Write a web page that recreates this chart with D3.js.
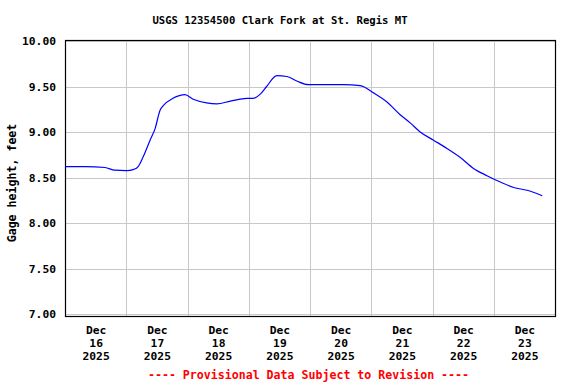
<!DOCTYPE html>
<html>
<head>
<meta charset="utf-8">
<script src="https://cdn.jsdelivr.net/npm/d3@7"></script>
<style>
  body { margin: 0; background: #fff; }
  svg text { font-family: "DejaVu Sans Mono", "Liberation Mono", monospace; font-weight: bold; }
  .grid line { stroke: #c8c8c8; stroke-width: 1; }
</style>
</head>
<body>
<div id="chart"></div>
<script>
// gage height readings (UTC times, feet)
var times = [
  "2025-12-16T00:00", "2025-12-16T08:00", "2025-12-16T15:40", "2025-12-16T19:30",
  "2025-12-17T00:00", "2025-12-17T03:00", "2025-12-17T04:40", "2025-12-17T06:40",
  "2025-12-17T09:20", "2025-12-17T11:20", "2025-12-17T13:15", "2025-12-17T14:30",
  "2025-12-17T18:20", "2025-12-17T23:00", "2025-12-18T02:15", "2025-12-18T07:30",
  "2025-12-18T11:30", "2025-12-18T16:50", "2025-12-18T23:15", "2025-12-19T01:40",
  "2025-12-19T05:00", "2025-12-19T07:00", "2025-12-19T11:00", "2025-12-19T14:55",
  "2025-12-19T18:50", "2025-12-19T23:25", "2025-12-20T06:35", "2025-12-20T13:10",
  "2025-12-20T19:40", "2025-12-21T00:55", "2025-12-21T06:10", "2025-12-21T11:20",
  "2025-12-21T15:15", "2025-12-21T19:10", "2025-12-22T00:25", "2025-12-22T05:40",
  "2025-12-22T10:55", "2025-12-22T16:05", "2025-12-22T21:20", "2025-12-23T02:35",
  "2025-12-23T07:50", "2025-12-23T13:00", "2025-12-23T19:00"
];
var heights = [
  8.62, 8.62, 8.61, 8.58,
  8.575, 8.59, 8.62, 8.73,
  8.91, 9.04, 9.24, 9.29,
  9.37, 9.41, 9.36, 9.32,
  9.31, 9.34, 9.37, 9.37,
  9.43, 9.50, 9.62, 9.61,
  9.56, 9.52, 9.52, 9.52,
  9.51, 9.43, 9.33, 9.19,
  9.10, 9.00, 8.91, 8.82,
  8.72, 8.60, 8.52, 8.45,
  8.39, 8.36, 8.30
];
var dayTicks = ["2025-12-16", "2025-12-17", "2025-12-18", "2025-12-19",
                "2025-12-20", "2025-12-21", "2025-12-22", "2025-12-23"];
var yTicks = [7.0, 7.5, 8.0, 8.5, 9.0, 9.5, 10.0];

var width = 576, height = 384;
var margin = {top: 40, right: 21, bottom: 68, left: 65};

var parseTime = d3.utcParse("%Y-%m-%dT%H:%M");
var parseDay = d3.utcParse("%Y-%m-%d");
var data = times.map(function (t, i) { return {t: parseTime(t), v: heights[i]}; });

var x = d3.scaleUtc()
    .domain([parseDay("2025-12-16"), parseDay("2025-12-24")])
    .range([margin.left, width - margin.right]);
var y = d3.scaleLinear()
    .domain([7, 10])
    .range([314, 41]);

var svg = d3.select("#chart").append("svg")
    .attr("width", width)
    .attr("height", height);

// grid
var midnights = dayTicks.slice(1).map(parseDay);
svg.append("g").attr("class", "grid")
    .selectAll("line.v").data(midnights).enter().append("line")
    .attr("x1", function (d) { return Math.round(x(d)) + 0.5; })
    .attr("x2", function (d) { return Math.round(x(d)) + 0.5; })
    .attr("y1", margin.top)
    .attr("y2", height - margin.bottom);
svg.select("g.grid")
    .selectAll("line.h").data(yTicks).enter().append("line")
    .attr("x1", margin.left)
    .attr("x2", width - margin.right)
    .attr("y1", function (d) { return Math.round(y(d)) + 0.5; })
    .attr("y2", function (d) { return Math.round(y(d)) + 0.5; });

// frame
svg.append("rect")
    .attr("x", margin.left + 0.5)
    .attr("y", margin.top + 0.5)
    .attr("width", width - margin.left - margin.right)
    .attr("height", height - margin.top - margin.bottom)
    .attr("fill", "none")
    .attr("stroke", "#000")
    .attr("stroke-width", 1.2);

// data line
var line = d3.line()
    .x(function (d) { return x(d.t); })
    .y(function (d) { return y(d.v); })
    .curve(d3.curveMonotoneX);
svg.append("path")
    .datum(data)
    .attr("fill", "none")
    .attr("stroke", "#0000ff")
    .attr("stroke-width", 1.2)
    .attr("d", line);

// y axis
var yAxis = svg.append("g")
    .attr("transform", "translate(" + margin.left + ",0)")
    .call(d3.axisLeft(y).tickValues(yTicks).tickFormat(d3.format(".2f")).tickSize(0).tickPadding(9));
yAxis.select(".domain").remove();
yAxis.selectAll("text")
    .style("font-size", "11.3px")
    .attr("fill", "#000");

// x axis (labels at noon)
var noons = dayTicks.map(function (d) { return d3.utcHour.offset(parseDay(d), 12); });
var fmtMon = d3.utcFormat("%b"), fmtDay = d3.utcFormat("%d"), fmtYear = d3.utcFormat("%Y");
var xAxis = svg.append("g")
    .attr("transform", "translate(0," + (height - margin.bottom) + ")")
    .call(d3.axisBottom(x).tickValues(noons).tickSize(0).tickFormat(""));
xAxis.select(".domain").remove();
xAxis.selectAll(".tick text").each(function (d) {
    var t = d3.select(this)
        .attr("y", 0)
        .attr("dy", null)
        .attr("fill", "#000")
        .style("font-size", "11.3px");
    [fmtMon(d), fmtDay(d), fmtYear(d)].forEach(function (s, i) {
        t.append("tspan").attr("x", 0).attr("y", 18 + i * 13).text(s);
    });
});

// title
svg.append("text")
    .attr("x", 280)
    .attr("y", 24)
    .attr("text-anchor", "middle")
    .style("font-size", "10.6px")
    .text("USGS 12354500 Clark Fork at St. Regis MT");

// y label
svg.append("text")
    .attr("transform", "translate(16,183) rotate(-90)")
    .attr("text-anchor", "middle")
    .style("font-size", "11.6px")
    .text("Gage height, feet");

// footer
svg.append("text")
    .attr("x", 308.5)
    .attr("y", 379)
    .attr("text-anchor", "middle")
    .attr("fill", "#ff0000")
    .style("font-size", "11.6px")
    .text("---- Provisional Data Subject to Revision ----");
</script>
</body>
</html>
